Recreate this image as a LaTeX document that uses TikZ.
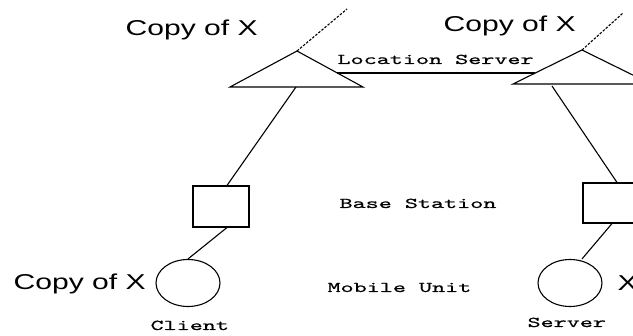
\documentclass[tikz,border=0pt]{standalone}
\usepackage{fontspec}
\usetikzlibrary{shapes.geometric}
\newfontfamily\sansx[FakeStretch=1.4]{Liberation Sans}
\newfontfamily\monox[Extension=.otf,FakeStretch=1.66,FakeBold=0.6]{lmmono10-regular}
\begin{document}
\begin{tikzpicture}[x=1pt,y=-1pt, line width=1.1pt,
  link/.style={draw=black},
  dotlink/.style={draw=black, dash pattern=on 2.5pt off 1.5pt},
  tri/.style={draw=black, line join=miter},
  sbox/.style={draw, rectangle, minimum width=56pt, minimum height=41pt, inner sep=0pt},
  unit/.style={draw, ellipse, minimum width=64pt, minimum height=47pt, inner sep=0pt},
  sanslbl/.style={anchor=base west, inner sep=0pt, font=\sansx\fontsize{21.5}{24}\selectfont},
  monolbl/.style={anchor=base west, inner sep=0pt, font=\monox\fontsize{15}{17}\selectfont}]
\useasboundingbox (0,0) rectangle (633,336);
\clip (0,0) rectangle (633,336);

% location servers (triangles)
\coordinate (LA) at (297,51);
\coordinate (LL) at (230,87);
\coordinate (LR) at (363,87);
\coordinate (RA) at (582,50);
\coordinate (RL) at (513,84);
\coordinate (RR) at (651,84);
\draw[tri] (LA) -- (LL) -- (LR) -- cycle;
\draw[tri] (RA) -- (RL) -- (RR) -- cycle;

% dotted links going up
\coordinate (LD) at (347,9);
\coordinate (RD) at (623,13);
\draw[dotlink] (LA) -- (LD);
\draw[dotlink] (RA) -- (RD);

% link between location servers
\coordinate (LS1) at (337,73);
\coordinate (LS2) at (535,73);
\draw[link] (LS1) -- (LS2);

% base stations
\node[sbox] (lbs) at (221,206.5) {};
\node[sbox, minimum height=40pt] (rbs) at (611,203) {};

% mobile units
\node[unit] (lmu) at (188,283) {};
\node[unit] (rmu) at (570,283) {};

% connectors
\coordinate (LB) at (296,87);
\coordinate (RB) at (552,86);
\draw[link] (LB) -- ([xshift=6pt]lbs.north);
\draw[link] ([xshift=6pt]lbs.south) -- (lmu.north);
\draw[link] (RB) -- ([xshift=6pt]rbs.north);
\draw[link] ([xshift=1pt]rbs.south) -- ([xshift=12pt]rmu.north);

% labels
\node[sanslbl] (c1) at (125,36) {Copy of X};
\node[sanslbl] (c2) at (443,31.5) {Copy of X};
\node[sanslbl] (c3) at (13,290) {Copy of X};
\node[sanslbl] (c4) at (617,291) {X};
\node[monolbl] (ls) at (337,64) {Location Server};
\node[monolbl] (bs) at (339,208) {Base Station};
\node[monolbl] (mu) at (327,292) {Mobile Unit};
\node[monolbl] (cl) at (150,330) {Client};
\node[monolbl] (sv) at (527,327) {Server};
\end{tikzpicture}
\end{document}
